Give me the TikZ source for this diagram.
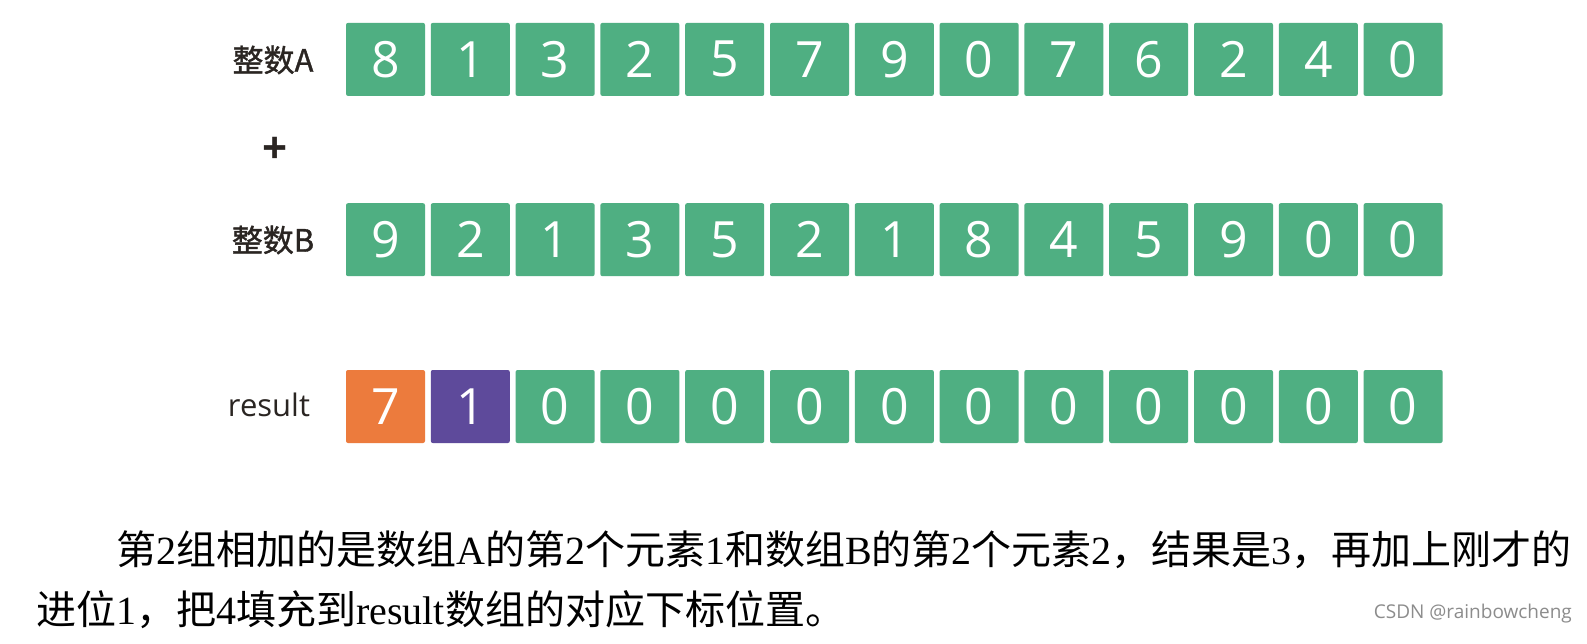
\documentclass[tikz,border=0pt]{standalone}
\usepackage{fontspec}
\setmainfont{Liberation Serif}
\newfontfamily\cjk{Noto Sans CJK SC}
\newfontfamily\cjkbold{Noto Sans CJK SC}[FakeBold=1.2]
\newfontfamily\digitfont{Open Sans}
\newfontfamily\wmfont{Open Sans}
\definecolor{cellgreen}{HTML}{4FAF82}
\definecolor{cellorange}{HTML}{EC7B3D}
\definecolor{cellpurple}{HTML}{5E4A9B}
\definecolor{labelink}{HTML}{2A2522}
\tikzset{
  cell/.style={draw=none, fill=cellgreen, rounded corners=2pt, minimum width=79pt, minimum height=73pt,
    inner sep=0pt, text=white, font=\digitfont\fontsize{50}{50}\selectfont},
  rowlabel/.style={text=labelink, inner sep=0pt, font=\cjkbold\fontsize{31}{31}\selectfont},
  bodytext/.style={anchor=west, inner sep=0pt, font=\fontsize{40}{40}\selectfont},
}
\begin{document}
\begin{tikzpicture}[x=1pt,y=-1pt]
\useasboundingbox (0,0) rectangle (1587,644);
\fill[white] (0,0) rectangle (1587,644);
% labels
\node[rowlabel] (la) at (273,60) {整数A};
\node[rowlabel, font=\wmfont\bfseries\fontsize{44}{44}\selectfont] (plus) at (275,150) {+};
\node[rowlabel] (lb) at (273,240) {整数B};
\node[rowlabel, font=\wmfont\fontsize{31}{31}\selectfont] (lr) at (269,405) {result};
% rows
\foreach \v [count=\i from 0] in {8,1,3,2,5,7,9,0,7,6,2,4,0}
  \node[cell] (a\i) at ({385.5+84.8*\i},59.4) {\v};
\foreach \v [count=\i from 0] in {9,2,1,3,5,2,1,8,4,5,9,0,0}
  \node[cell] (b\i) at ({385.5+84.8*\i},239.7) {\v};
\node[cell, fill=cellorange] (r0) at (385.5,406.5) {7};
\node[cell, fill=cellpurple] (r1) at ({385.5+84.8},406.5) {1};
\foreach \i in {2,...,12}
  \node[cell] (r\i) at ({385.5+84.8*\i},406.5) {0};
% caption
\node[bodytext] (t1) at (116,550) {{\cjk 第}2{\cjk 组相加的是数组}A{\cjk 的第}2{\cjk 个元素}1{\cjk 和数组}B{\cjk 的第}2{\cjk 个元素}2{\cjk ，结果是}3{\cjk ，再加上刚才的}};
\node[bodytext] (t2) at (36,610) {{\cjk 进位}1{\cjk ，把}4{\cjk 填充到}result{\cjk 数组的对应下标位置。}};
\node[anchor=east, inner sep=0pt, text=black!45, font=\wmfont\fontsize{19}{19}\selectfont] (wm) at (1572,614) {CSDN @rainbowcheng};
\end{tikzpicture}
\end{document}
